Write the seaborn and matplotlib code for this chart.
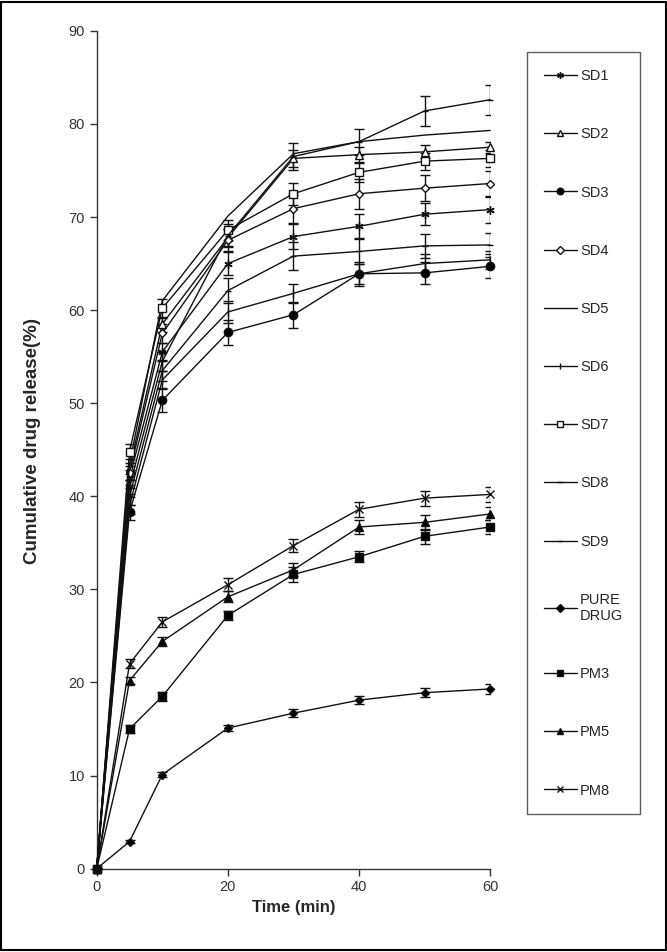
import numpy as np
import pandas as pd
import matplotlib
matplotlib.use("Agg")
import matplotlib.pyplot as plt
from matplotlib.lines import Line2D
from matplotlib.patches import Rectangle
import seaborn as sns

# Dissolution data
time = [0, 5, 10, 20, 30, 40, 50, 60]

sd1 = [0, 42.0, 55.5, 65.0, 67.9, 69.0, 70.3, 70.8]
sd2 = [0, 43.0, 58.5, 67.8, 76.3, 76.7, 77.0, 77.5]
sd3 = [0, 38.3, 50.3, 57.6, 59.5, 63.9, 64.0, 64.7]
sd4 = [0, 42.5, 57.5, 67.5, 70.9, 72.5, 73.1, 73.6]
sd5 = [0, 43.5, 61.0, 70.1, 76.8, 78.1, 78.8, 79.3]
sd6 = [0, 39.0, 52.5, 59.8, 61.8, 63.9, 65.0, 65.4]
sd7 = [0, 44.8, 60.2, 68.6, 72.5, 74.8, 76.0, 76.3]
sd8 = [0, 41.0, 54.5, 68.0, 76.5, 78.1, 81.4, 82.6]
sd9 = [0, 40.0, 53.5, 62.1, 65.8, 66.3, 66.9, 67.0]
pure = [0, 2.9, 10.1, 15.1, 16.7, 18.1, 18.9, 19.3]
pm3 = [0, 15.0, 18.5, 27.2, 31.6, 33.5, 35.7, 36.7]
pm5 = [0, 20.2, 24.4, 29.2, 32.1, 36.7, 37.2, 38.1]
pm8 = [0, 22.0, 26.5, 30.5, 34.7, 38.6, 39.8, 40.2]

# standard deviations (half error bar heights)
sd1_err = [0, 0.8, 1.0, 1.2, 1.3, 1.3, 1.2, 1.4]
sd2_err = [0, 0.6, 0.8, 0.9, 0.9, 0.8, 0.7, 0.6]
sd3_err = [0, 0.8, 1.3, 1.3, 1.4, 1.3, 1.2, 1.3]
sd4_err = [0, 0.8, 1.0, 1.2, 1.5, 1.6, 1.4, 1.3]
sd5_err = [0, 0, 0, 0, 0, 0, 0, 0]
sd6_err = [0, 0.9, 1.0, 1.2, 1.0, 1.1, 1.0, 1.0]
sd7_err = [0, 0.8, 1.0, 1.1, 1.2, 1.0, 0.9, 0.9]
sd8_err = [0, 0.8, 1.0, 1.2, 1.5, 1.4, 1.6, 1.6]
sd9_err = [0, 0.9, 1.1, 1.3, 1.5, 1.3, 1.3, 1.3]
pure_err = [0, 0.2, 0.3, 0.3, 0.4, 0.4, 0.5, 0.5]
pm3_err = [0, 0.4, 0.5, 0.5, 0.8, 0.6, 0.8, 0.7]
pm5_err = [0, 0.4, 0.5, 0.6, 0.7, 0.8, 0.8, 0.7]
pm8_err = [0, 0.5, 0.5, 0.7, 0.7, 0.8, 0.8, 0.8]

labels = ['SD1', 'SD2', 'SD3', 'SD4', 'SD5', 'SD6', 'SD7', 'SD8', 'SD9',
          'PURE\nDRUG', 'PM3', 'PM5', 'PM8']
values = [sd1, sd2, sd3, sd4, sd5, sd6, sd7, sd8, sd9, pure, pm3, pm5, pm8]
errors = [sd1_err, sd2_err, sd3_err, sd4_err, sd5_err, sd6_err, sd7_err,
          sd8_err, sd9_err, pure_err, pm3_err, pm5_err, pm8_err]

# marker, marker size, face colour
styles = [
    ((6, 2, 0), 6, 'black'),
    ('^', 5.5, 'white'),
    ('o', 6, 'black'),
    ('D', 4.5, 'white'),
    (None, 0, 'black'),
    ('|', 6, 'black'),
    ('s', 6, 'white'),
    ('_', 5, 'black'),
    ('_', 4, 'black'),
    ('D', 4.5, 'black'),
    ('s', 6, 'black'),
    ('^', 6, 'black'),
    ('x', 6, 'black'),
]

sns.set_style("white")
plt.rcParams['font.family'] = ['Liberation Sans', 'DejaVu Sans']

fig = plt.figure(figsize=(6.67, 9.52), dpi=100)
ax = fig.add_axes([0.145, 0.0876, 0.59, 0.880])

ink = '#111111'
handles = []
for lab, vals, err, (mk, ms, fc) in zip(labels, values, errors, styles):
    if max(err) > 0:
        ax.errorbar(time, vals, yerr=err, fmt='none', ecolor=ink,
                    elinewidth=1.0, capsize=3.5, capthick=1.0, zorder=2)
    sns.lineplot(x=time, y=vals, ax=ax, color=ink, linewidth=1.0,
                 marker=mk, markersize=ms, markerfacecolor=fc,
                 markeredgecolor=ink, markeredgewidth=1.0,
                 errorbar=None, legend=False, clip_on=False, zorder=3)
    handles.append(Line2D([0], [0], color=ink, linewidth=1.0, marker=mk,
                          markersize=ms * 0.8, markerfacecolor=fc,
                          markeredgecolor=ink, markeredgewidth=1.0))

ax.set_xlim(0, 60)
ax.set_ylim(0, 90)
ax.set_xticks([0, 20, 40, 60])
ax.set_yticks(range(0, 91, 10))
ax.tick_params(axis='both', direction='out', length=5, width=1,
               labelsize=10.5, colors='#333333', left=True, bottom=True)
for side in ['top', 'right']:
    ax.spines[side].set_visible(False)
for side in ['left', 'bottom']:
    ax.spines[side].set_color('#333333')
    ax.spines[side].set_linewidth(1.0)

ax.set_xlabel('Time (min)', fontsize=12, fontweight='bold', labelpad=4)
ax.set_ylabel('Cumulative drug release(%)', fontsize=13.5,
              fontweight='bold')
ax.yaxis.set_label_coords(-0.142, 0.51)

leg = fig.legend(handles, labels, loc='upper left',
                 bbox_to_anchor=(0.79, 0.945), frameon=True,
                 fancybox=False, edgecolor='#333333', fontsize=10.5,
                 labelspacing=3.03, handlelength=2.3, handletextpad=0.2,
                 borderpad=1.15, borderaxespad=0)
leg.get_frame().set_linewidth(1.0)

# outer frame of the picture
fig.patches.append(Rectangle((0.002, 0.002), 0.996, 0.996,
                             transform=fig.transFigure, fill=False,
                             edgecolor='black', linewidth=1.5))

fig.savefig('out.png', dpi=100)
